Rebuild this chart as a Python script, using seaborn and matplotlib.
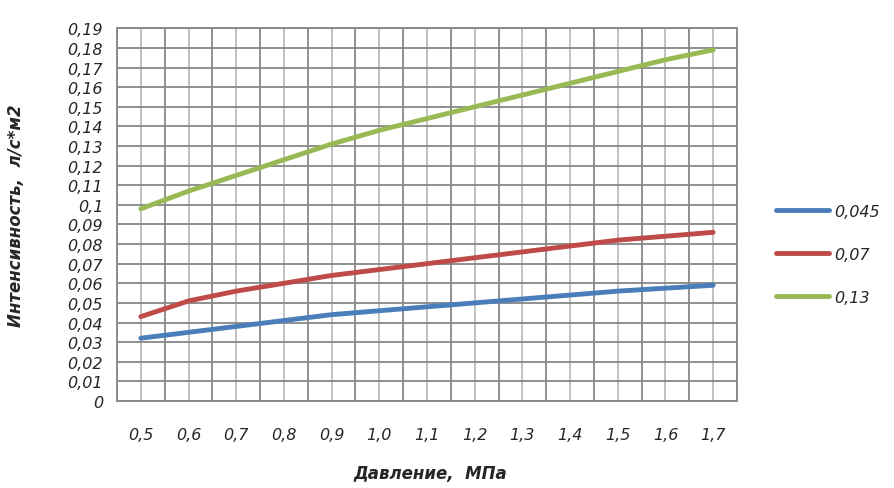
import matplotlib
matplotlib.use("Agg")
import matplotlib.pyplot as plt
import seaborn as sns
import pandas as pd
import numpy as np
from matplotlib.ticker import FixedLocator, FuncFormatter

# data
pressure = [0.5, 0.6, 0.7, 0.8, 0.9, 1.0, 1.1, 1.2, 1.3, 1.4, 1.5, 1.6, 1.7]
s_045 = [0.032, 0.035, 0.038, 0.041, 0.044, 0.046, 0.048, 0.050, 0.052, 0.054, 0.056, 0.0575, 0.059]
s_07 = [0.043, 0.051, 0.056, 0.060, 0.064, 0.067, 0.070, 0.073, 0.076, 0.079, 0.082, 0.084, 0.086]
s_13 = [0.098, 0.107, 0.115, 0.123, 0.131, 0.138, 0.144, 0.150, 0.156, 0.162, 0.168, 0.174, 0.179]
series_names = ["0,045", "0,07", "0,13"]
colors = ["#4A7EBB", "#BE4B48", "#98B954"]

df = pd.concat([
    pd.DataFrame({"p": pressure, "v": vals, "s": name})
    for name, vals in zip(series_names, [s_045, s_07, s_13])
])

sns.set_style("white")
plt.rcParams["font.family"] = ["DejaVu Sans"]

fig = plt.figure(figsize=(8.95, 4.89), dpi=100)
ax = fig.add_axes([0.1307, 0.178, 0.6928, 0.762])

sns.lineplot(data=df, x="p", y="v", hue="s", hue_order=series_names,
             palette=dict(zip(series_names, colors)), linewidth=3.5,
             ax=ax, legend=False)
for ln in ax.lines:
    ln.set_solid_capstyle("round")

dark = "#878787"
light = "#bdbdbd"

# x: labels on category centres, dark lines on boundaries
ax.set_xlim(0.45, 1.75)
ax.xaxis.set_major_locator(FixedLocator(pressure))
ax.xaxis.set_minor_locator(FixedLocator([p - 0.05 for p in pressure] + [1.75]))
ax.xaxis.set_major_formatter(FuncFormatter(lambda v, _: f"{v:.1f}".replace(".", ",")))
ax.grid(True, which="major", axis="x", color=light, linewidth=1.3)
ax.grid(True, which="minor", axis="x", color=dark, linewidth=1.3)
ax.tick_params(axis="x", which="major", length=0, pad=19, labelsize=11.5)
ax.tick_params(axis="x", which="minor", length=6, width=1.3, color=dark, direction="out")

# y
ax.set_ylim(0, 0.19)
yt = [round(0.01 * i, 2) for i in range(20)]
ax.yaxis.set_major_locator(FixedLocator(yt))
ax.yaxis.set_major_formatter(FuncFormatter(lambda v, _: f"{v:g}".replace(".", ",")))
ax.grid(True, which="major", axis="y", color=dark, linewidth=1.3)
ax.tick_params(axis="y", which="major", length=7, width=1.3, color=dark, pad=3, labelsize=11.5)

for lab in ax.get_xticklabels() + ax.get_yticklabels():
    lab.set_fontstyle("italic")

for side in ["left", "bottom", "top", "right"]:
    ax.spines[side].set_color(dark)
    ax.spines[side].set_linewidth(1.3)
ax.set_axisbelow(True)

ax.set_xlabel("Давление,  МПа", fontsize=12, fontstyle="italic", fontweight="bold")
ax.set_ylabel("Интенсивность,  л/с*м2", fontsize=12, fontstyle="italic", fontweight="bold")
ax.xaxis.set_label_coords(0.505, -0.17)
ax.yaxis.set_label_coords(-0.148, 0.5)

handles = [plt.Line2D([], [], color=c, linewidth=3.5, solid_capstyle="round") for c in colors]
leg = ax.legend(handles, series_names, loc="center left", bbox_to_anchor=(1.04, 0.394),
                frameon=False, handlelength=3.3, handletextpad=0.35, labelspacing=1.75,
                prop={"size": 11.5, "style": "italic"})

fig.savefig("out.png", dpi=100)
